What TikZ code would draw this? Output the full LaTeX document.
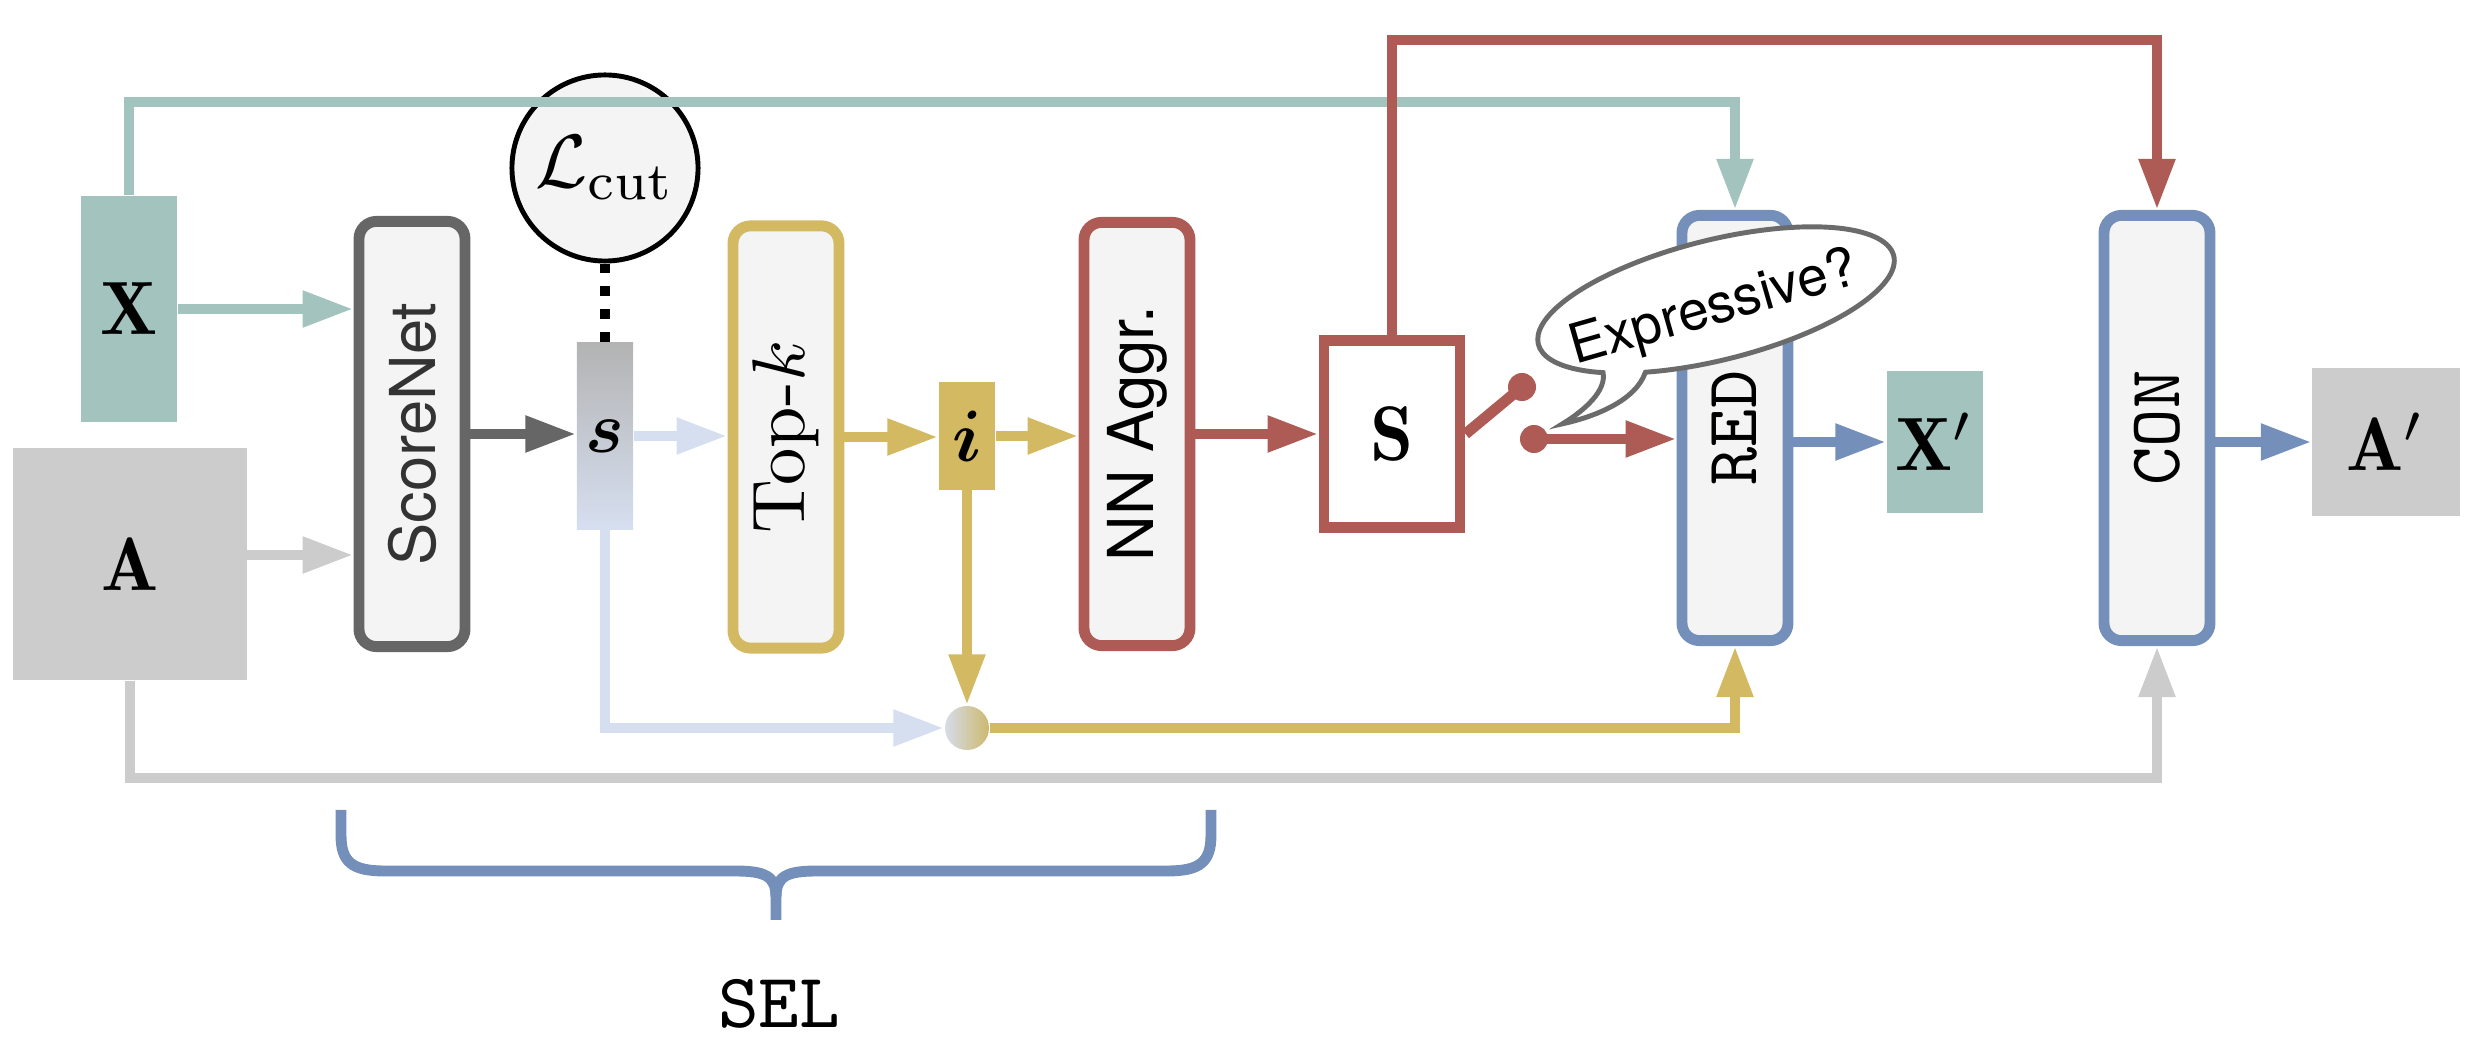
\documentclass[tikz,border=0pt]{standalone}
\usepackage{fontspec}
\usepackage{amsmath}
\usepackage{graphicx}
\usetikzlibrary{arrows.meta}
\newfontfamily\helv{TeX Gyre Heros}
\newcommand{\lbl}[2][2.07]{\scalebox{#1}{#2}}
\definecolor{tealc}{RGB}{163,196,190}
\definecolor{grayc}{RGB}{204,204,204}
\definecolor{darkg}{RGB}{102,102,102}
\definecolor{boxfill}{RGB}{244,244,244}
\definecolor{sgray}{RGB}{179,179,179}
\definecolor{sblue}{RGB}{214,223,240}
\definecolor{yellowc}{RGB}{210,185,98}
\definecolor{redc}{RGB}{173,91,84}
\definecolor{bluec}{RGB}{116,143,186}
\definecolor{bubg}{RGB}{107,107,107}
\definecolor{mixl}{RGB}{214,220,234}
\definecolor{mixr}{RGB}{205,185,110}

\begin{document}
\begin{tikzpicture}[x=0.01cm, y=-0.01cm,
  every node/.style={inner sep=0pt, font=\fontsize{10}{12}\selectfont},
  blk/.style={draw, line width=3.1pt, fill=boxfill, rounded corners=5pt,
    minimum width=1.06cm, minimum height=4.25cm},
  sans/.style={font=\fontsize{18}{21}\helv},
  wire/.style={line width=3.1pt},
  arr/.style={wire, -{Triangle[length=14.5pt,width=9.7pt]}}]
\useasboundingbox (0,0) rectangle (2474,1052);

% inputs
\node[fill=tealc, minimum width=0.96cm, minimum height=2.26cm] (X) at (129,309) {\lbl[2.15]{$\mathbf{X}$}};
\node[fill=grayc, minimum width=2.33cm, minimum height=2.32cm] (A) at (130,564) {\lbl[2.15]{$\mathbf{A}$}};

% selection
\node[blk, sans, draw=darkg, text=black!80] (score) at (412,434) {\rotatebox{90}{ScoreNet}};
\node[circle, draw, line width=1.4pt, fill=boxfill, minimum size=1.86cm] (lcut) at (605,168) {\lbl[2.15]{$\mathcal{L}_\mathrm{cut}$}};
\node[top color=sgray, bottom color=sblue, minimum width=0.56cm, minimum height=1.87cm] (s) at (605,436) {\lbl{$\boldsymbol{s}$}};
\node[blk, draw=yellowc, minimum height=4.22cm] (topk) at (786,437) {\rotatebox{90}{\lbl[2.12]{Top-$k$}}};
\node[fill=yellowc, minimum width=0.56cm, minimum height=1.07cm] (i) at (967,436) {\lbl{$\boldsymbol{i}$}};
\node[circle, left color=mixl, right color=mixr, minimum size=0.44cm] (mix) at (967,728) {};
\node[blk, sans, draw=redc, minimum height=4.23cm] (nn) at (1137,434) {\rotatebox{90}{NN Aggr.}};
\node[draw=redc, line width=3.1pt, fill=white, minimum width=1.36cm, minimum height=1.87cm] (S) at (1392,434) {\lbl[2.2]{$\mathbf{S}$}};
\node[circle, fill=redc, minimum size=0.28cm] (sw1) at (1522,387) {};
\node[circle, fill=redc, minimum size=0.28cm] (sw2) at (1534,439) {};

% reduction and connection
\node[blk, draw=bluec] (red) at (1735,428) {\rotatebox{90}{\lbl{\texttt{RED}}}};
\node[fill=tealc, minimum width=0.96cm, minimum height=1.42cm] (Xo) at (1935,442) {\lbl[2.15]{$\mathbf{X}'$}};
\node[blk, draw=bluec] (con) at (2157,428) {\rotatebox{90}{\lbl{\texttt{CON}}}};
\node[fill=grayc, minimum width=1.47cm, minimum height=1.48cm] (Ao) at (2386,442) {\lbl[2.15]{$\mathbf{A}'$}};
\node (sel) at (779,1004) {\lbl[2.2]{\texttt{SEL}}};

\coordinate (tl) at (129,102);
\coordinate (rl) at (1392,40);
\coordinate (gl) at (130,778);

\draw[arr, tealc] (X.north) -- (tl) -| (red.north);
\draw[arr, redc] (S.north) -- (rl) -| (con.north);
\draw[arr, grayc] (A.south) -- (gl) -| (con.south);

\draw[arr, tealc] (X.east) -- (X.east -| score.west);
\draw[arr, grayc] ([yshift=0.09cm]A.east) -- ([yshift=0.09cm]A.east -| score.west);
\draw[arr, darkg] (score.east) -- (score.east -| s.west);
\draw[wire, dash pattern=on 2.7pt off 3.8pt] (lcut.south) -- (s.north);
\draw[arr, sblue] (s.east) -- (s.east -| topk.west);
\draw[arr, yellowc] (topk.east) -- (topk.east -| i.west);
\draw[arr, yellowc] (i.east) -- (i.east -| nn.west);
\draw[arr, redc] (nn.east) -- (nn.east -| S.west);
\draw[wire, redc] (S.east) -- (sw1.center);
\draw[arr, redc] (sw2.center) -- (sw2 -| red.west);
\draw[arr, bluec] (red.east |- Xo) -- (Xo.west);
\draw[arr, bluec] (con.east |- Ao) -- (Ao.west);
\draw[arr, sblue] (s.south) |- (mix.west);
\draw[arr, yellowc] (i.south) -- (mix.north);
\draw[arr, yellowc] (mix.east) -| (red.south);

% brace under SEL
\draw[wire, bluec] (341,810) -- (341,835) .. controls (341,862) and (352,871) .. (385,871)
  -- (735,871) .. controls (765,871) and (776,876) .. (776,897) -- (776,920);
\draw[wire, bluec] (1211,810) -- (1211,835) .. controls (1211,862) and (1200,871) .. (1167,871)
  -- (817,871) .. controls (787,871) and (776,876) .. (776,897);

% speech bubble
\begin{scope}[shift={(1716,300)}, y=0.01cm, rotate=14]
\draw[line width=1.4pt, draw=bubg, fill=white] (242:1.83cm and 0.6cm)
  arc[start angle=242, end angle=586, x radius=1.83cm, y radius=0.6cm]
  .. controls (-128,-61) and (-153,-75) .. (-179,-83)
  .. controls (-145,-84) and (-102,-78) .. cycle;
\end{scope}
\node[font=\fontsize{15.6}{18}\helv, rotate=16] (bub) at (1714,310) {Expressive?};
\end{tikzpicture}
\end{document}
